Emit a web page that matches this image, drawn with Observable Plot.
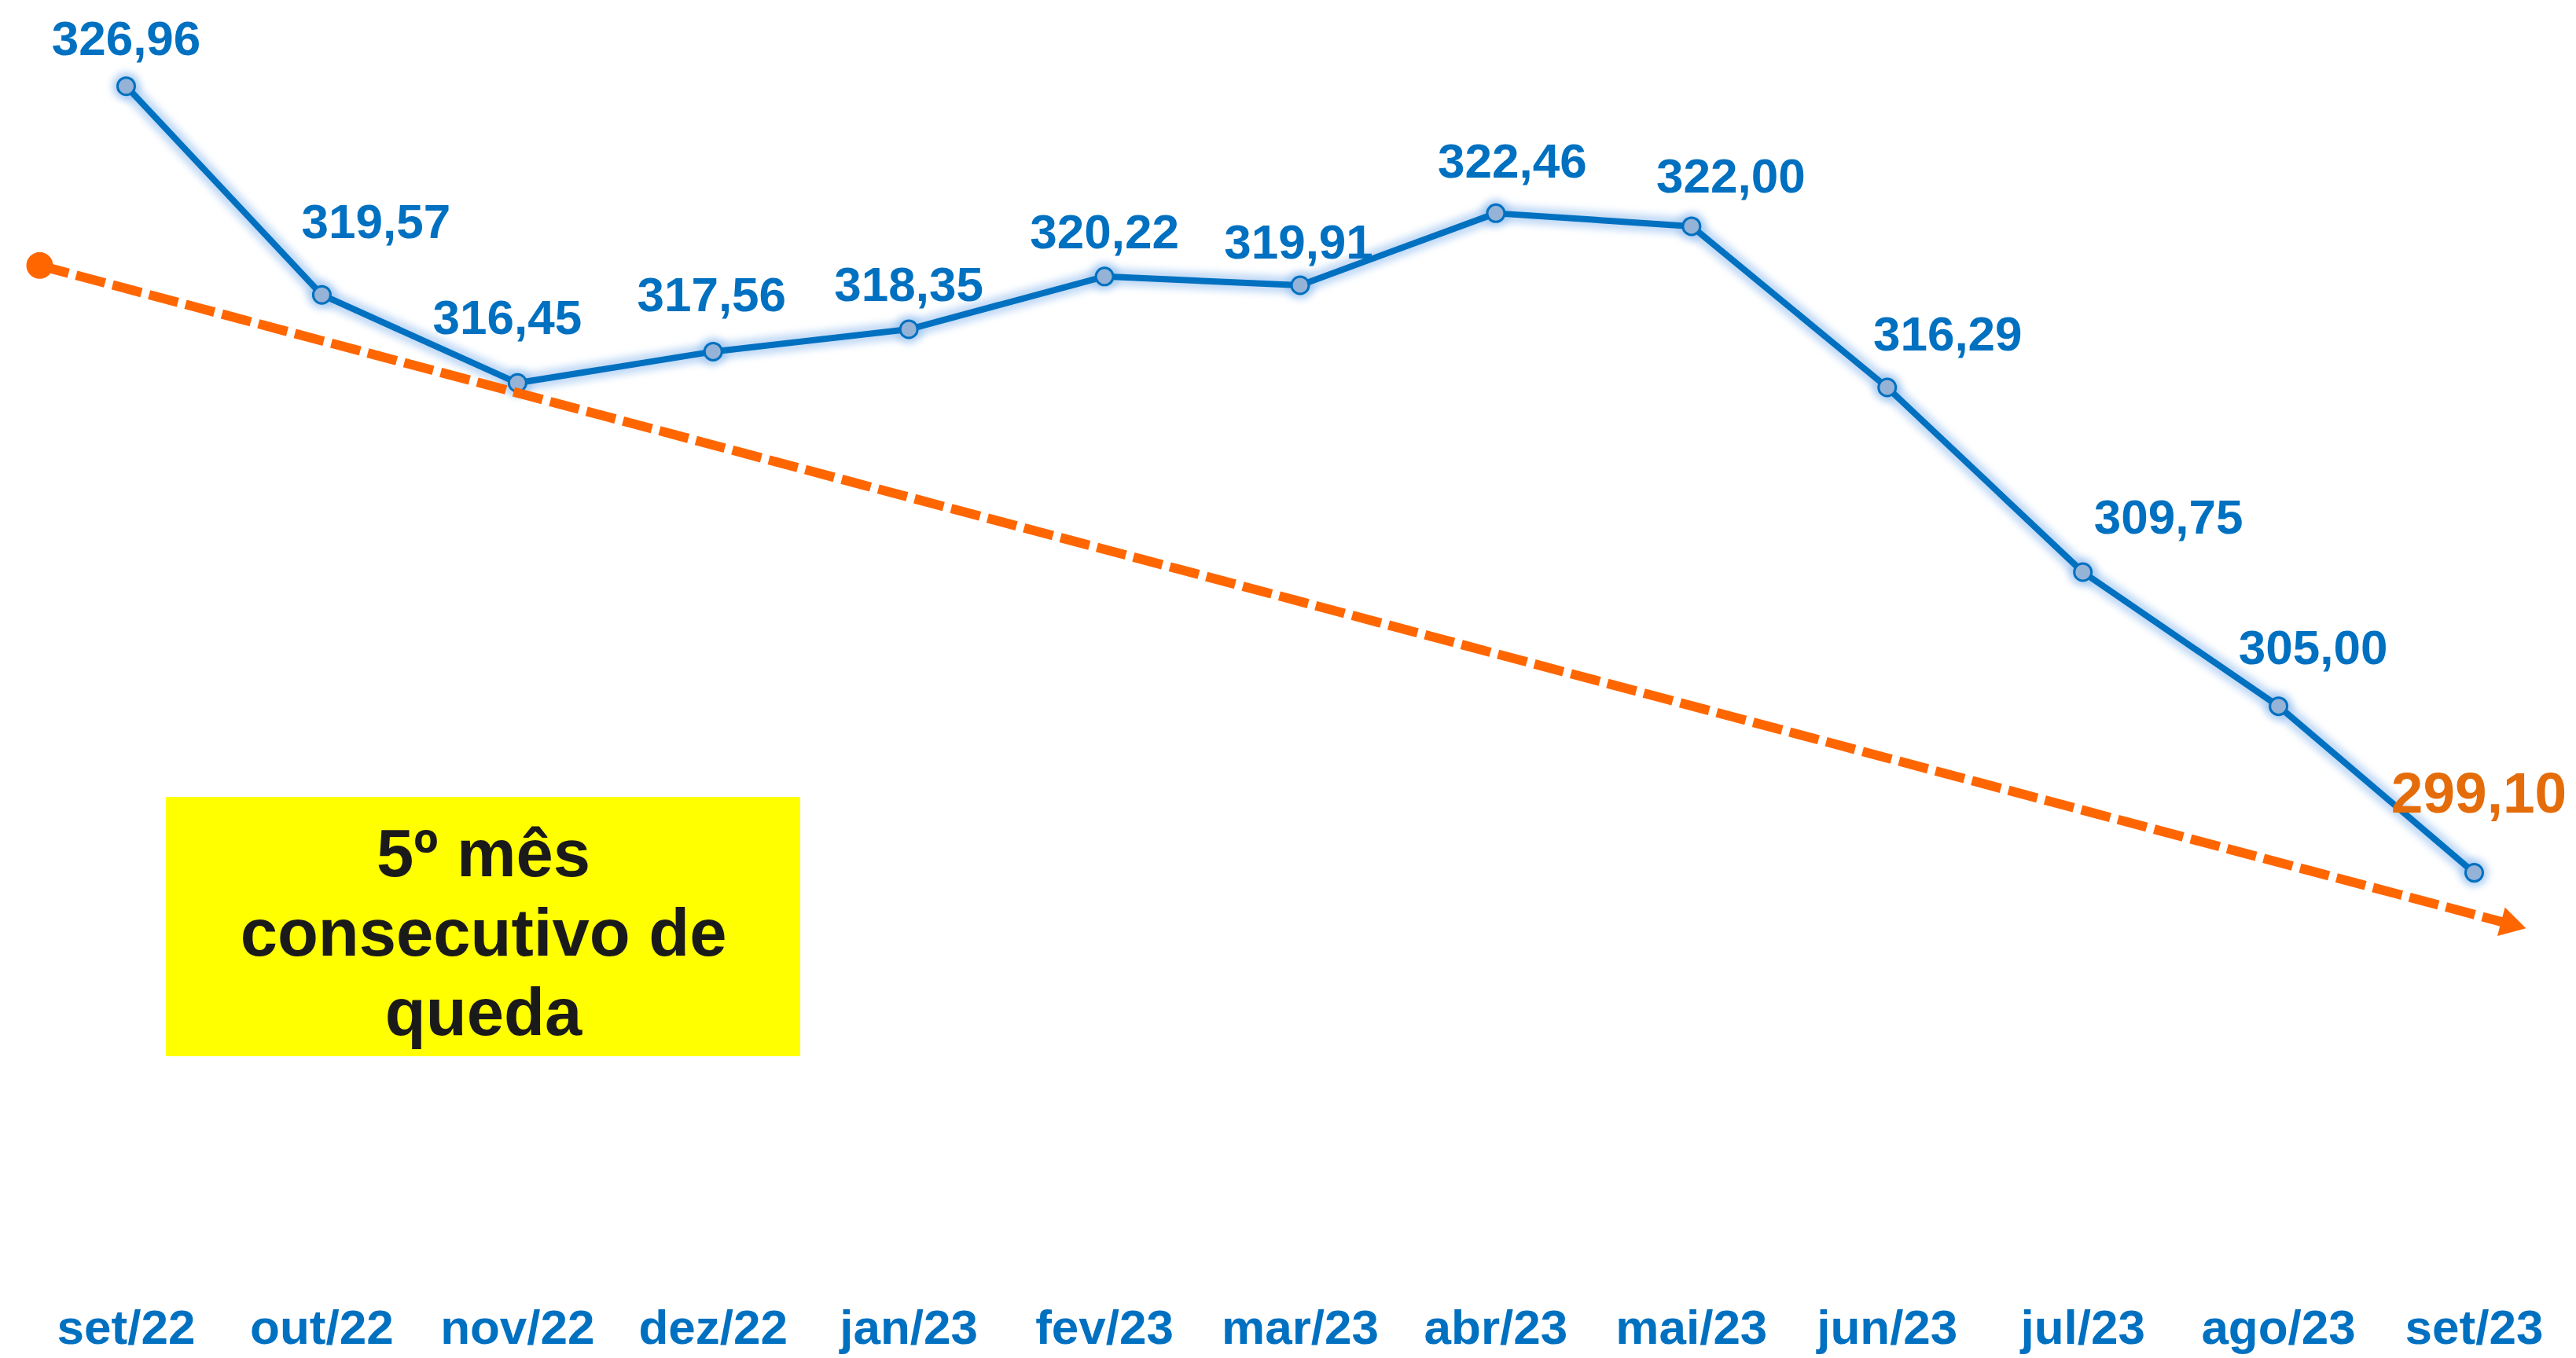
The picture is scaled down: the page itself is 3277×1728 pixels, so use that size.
<!DOCTYPE html>
<html>
<head>
<meta charset="utf-8">
<script src="https://cdn.jsdelivr.net/npm/d3@7"></script>
<script src="https://cdn.jsdelivr.net/npm/@observablehq/plot@0.6"></script>
<style>
  html, body { margin: 0; padding: 0; background: #fff; }
  #chart { width: 3277px; height: 1728px; }
</style>
</head>
<body>
<div id="chart"></div>
<script>
// ---- data ----
const months = ["set/22","out/22","nov/22","dez/22","jan/23","fev/23","mar/23","abr/23","mai/23","jun/23","jul/23","ago/23","set/23"];
const prices = [326.96, 319.57, 316.45, 317.56, 318.35, 320.22, 319.91, 322.46, 322.00, 316.29, 309.75, 305.00, 299.10];
// trend arrow (x in month index units, y in value units)
const trendX = [-0.442, 12.18];
const trendY = [320.61, 297.29];
const noteText = ["5º mês", "consecutivo de", "queda"];

// ---- layout / style config ----
const W = 3277, H = 1728;
const mL = 160, mR = 130, mT = 0, mB = 291;
const xDomain = [0, 12], yDomain = [290, 330];
const noteBox = {x1: 0.205, x2: 3.447, y1: 292.59, y2: 301.77};
// per-label pixel offsets [dx, dy] relative to each point
const labelOffsets = [[0,-60],[69,-92],[-13,-82],[-2,-71],[0,-56],[0,-56],[-2,-54],[21,-65],[50,-63],[77,-67],[109,-69],[44,-73],[6,-100]];
const BLUE = "#0070C0", ORANGE = "#FF6600", ORANGE_TXT = "#E46C0A";
const FONT = "'Liberation Sans', Arial, Helvetica, sans-serif";

const data = prices.map((v, i) => ({i, v, m: months[i]}));
const trend = trendX.map((x, k) => ({x, y: trendY[k]}));
const fmt = v => v.toFixed(2).replace(".", ",");

// arrow head angle in screen space
const xs = d3.scaleLinear(xDomain, [mL, W - mR]);
const ys = d3.scaleLinear(yDomain, [H - mB, mT]);
const ang = Math.atan2(ys(trendY[1]) - ys(trendY[0]), xs(trendX[1]) - xs(trendX[0])) * 180 / Math.PI;

const last = data.length - 1;
const labelMarks = data.map((d, k) => Plot.text([d], {
  x: "i", y: "v", text: dd => fmt(dd.v),
  dx: labelOffsets[k][0], dy: labelOffsets[k][1],
  fontSize: k === last ? 73 : 62, fontWeight: "bold", textAnchor: "middle", lineAnchor: "middle",
  fill: k === last ? ORANGE_TXT : BLUE
}));

const chart = Plot.plot({
  width: W, height: H,
  marginLeft: mL, marginRight: mR, marginTop: mT, marginBottom: mB,
  x: {domain: xDomain, axis: null},
  y: {domain: yDomain, axis: null},
  style: {fontFamily: FONT, background: "#fff", overflow: "visible"},
  marks: [
    Plot.rect([noteBox], {x1: "x1", x2: "x2", y1: "y1", y2: "y2", fill: "#FFFF00"}),
    Plot.text([noteText.join("\n")], {
      x: (noteBox.x1 + noteBox.x2) / 2, y: (noteBox.y1 + noteBox.y2) / 2, dy: 4,
      text: d => d, fontSize: 85, fontWeight: "bold", fill: "#1a1a1a",
      lineHeight: 1.19, textAnchor: "middle", lineAnchor: "middle"
    }),
    // glow
    Plot.line(data, {x: "i", y: "v", stroke: "#8fbcef", strokeWidth: 22, strokeOpacity: 0.55}),
    Plot.dot(data, {x: "i", y: "v", r: 18, fill: "#8fbcef", fillOpacity: 0.6}),
    // main line
    Plot.line(data, {x: "i", y: "v", stroke: BLUE, strokeWidth: 8}),
    Plot.dot(data, {x: "i", y: "v", r: 11, fill: "#95B3D7", stroke: BLUE, strokeWidth: 3}),
    // trend arrow
    Plot.line(trend, {x: "x", y: "y", stroke: ORANGE, strokeWidth: 12, strokeDasharray: "38,10", strokeLinecap: "butt"}),
    Plot.dot([trend[0]], {x: "x", y: "y", r: 17, fill: ORANGE}),
    Plot.dot([trend[1]], {x: "x", y: "y", r: 14, symbol: "triangle", fill: ORANGE, rotate: 90 + ang}),
    ...labelMarks,
    Plot.axisX(d3.range(months.length), {
      tickFormat: i => months[i], tickSize: 0, tickPadding: 228,
      fontSize: 62, fontWeight: "bold", fill: BLUE, color: BLUE, label: null
    })
  ]
});

// soften glow layers
const lines = chart.querySelectorAll('g[aria-label="line"]');
if (lines[0]) lines[0].style.filter = "blur(5px)";
const dots = chart.querySelectorAll('g[aria-label="dot"]');
if (dots[0]) dots[0].style.filter = "blur(5px)";

document.getElementById("chart").appendChild(chart);
</script>
</body>
</html>
